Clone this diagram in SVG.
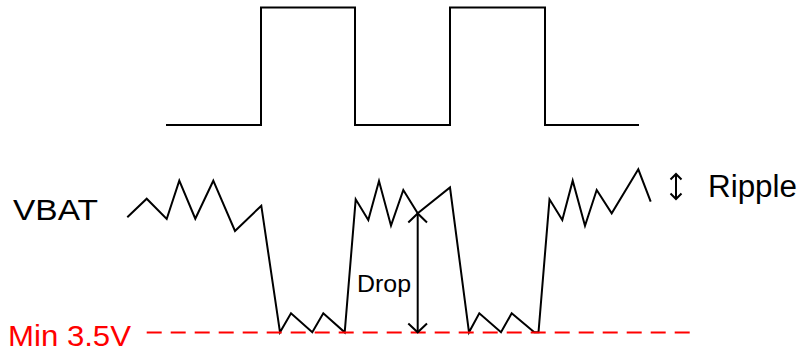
<svg xmlns="http://www.w3.org/2000/svg" width="798" height="352" viewBox="0 0 798 352">
<style>
.w{fill:none;stroke:#000;stroke-width:2;stroke-linejoin:miter}
.a{fill:none;stroke:#000;stroke-width:2}
.t{font-family:"Liberation Sans",Arial,sans-serif;fill:#000}
.r{font-family:"Liberation Sans",Arial,sans-serif;fill:#ff0000}
</style>
<rect width="798" height="352" fill="#fff"/>
<g id="pulse">
<polyline class="w" points="166,125 261,125 261,7.5 355,7.5 355,125 450,125 450,7.5 545,7.5 545,125 639,125"/>
</g>
<g id="vbat">
<polyline class="w" points="127.3,217.3 146.7,198.7 166.7,219 179.3,180.7 195.3,218.7 213.3,180.7 235,231 261.3,205.7 280,332.3 291,313.3 312.3,332.3 323.3,313.3 344.7,332.3 355.7,199.3 368.3,220 379,181 391,225.7 403.3,190 417.7,213.3 450,187.5 469,332.3 479.3,313.3 501,332.3 511.7,313.3 534.3,332.3 538.5,332.3 549.5,199.3 562.3,220 572.7,180.7 585,225.7 596.7,190 611.7,213.3 638.3,169.3 650.7,201.7"/>
</g>
<g id="labels">
<text class="t" x="13" y="219.5" font-size="30" textLength="85" lengthAdjust="spacingAndGlyphs">VBAT</text>
<text class="t" x="357" y="292" font-size="24" textLength="54" lengthAdjust="spacingAndGlyphs">Drop</text>
<text class="t" x="708" y="197" font-size="31" textLength="89" lengthAdjust="spacingAndGlyphs">Ripple</text>
<text class="r" x="8" y="345.5" font-size="30" textLength="123" lengthAdjust="spacingAndGlyphs">Min 3.5V</text>
</g>
<g id="connectors">
<line x1="146.7" y1="332.5" x2="690" y2="332.5" stroke="#ff0000" stroke-width="2" stroke-dasharray="15 9"/>
<line class="a" x1="417.7" y1="213.5" x2="417.7" y2="332"/>
<polyline class="a" points="408.3,222.5 417.7,213.5 427,222.5"/>
<polyline class="a" points="408.3,323.5 417.7,332.3 427,323.5"/>
<line class="a" x1="676" y1="174" x2="676" y2="199" stroke-width="1.6"/>
<polyline class="a" points="670.5,179.5 676,174 681.5,179.5" stroke-width="1.6"/>
<polyline class="a" points="670.5,193.5 676,199 681.5,193.5" stroke-width="1.6"/>
</g>
</svg>
